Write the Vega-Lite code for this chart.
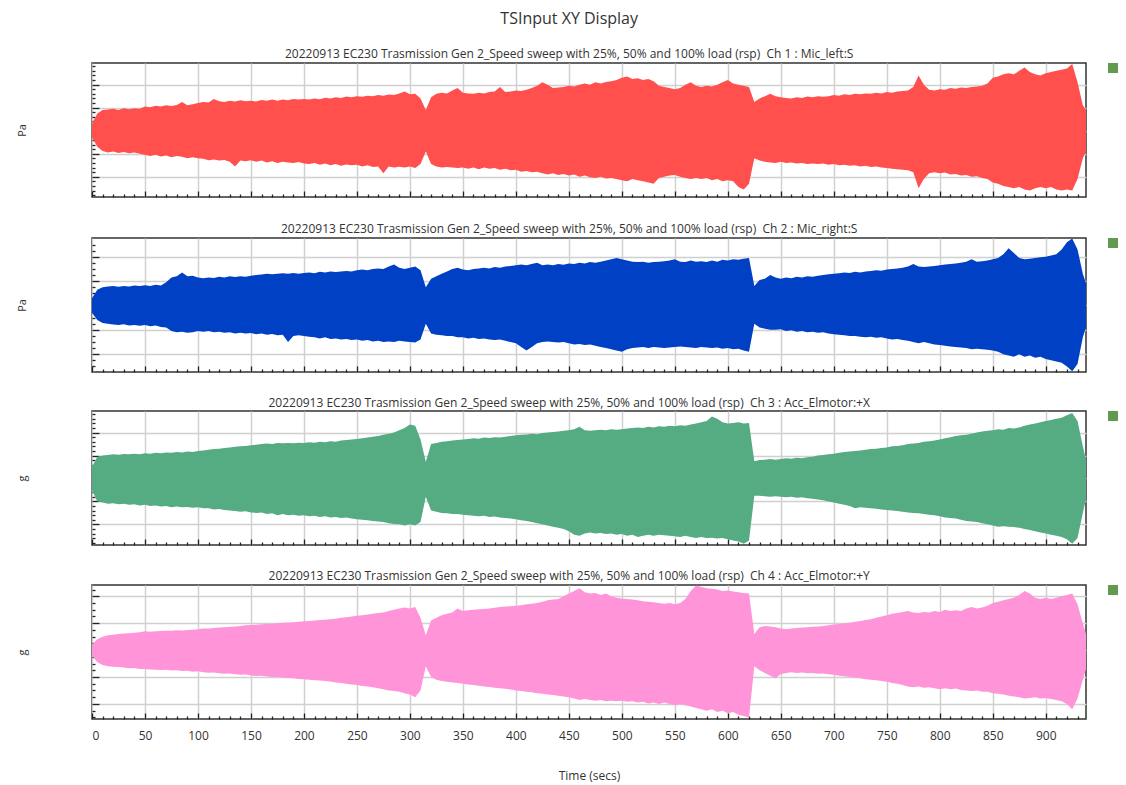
{
"$schema":"https://vega.github.io/schema/vega-lite/v6.json",
"background":"white",
"padding":{"left":15,"right":5,"top":11,"bottom":5},
"title":{"text":"TSInput XY Display","fontSize":16,"anchor":"middle","offset":20,"fontWeight":"normal","color":"#333"},
"spacing":22,
"resolve":{"scale":{"color":"independent"},"legend":{"color":"independent"}},
"datasets":{"wave":[
{"t":0,"h1":0.3,"l1":-0.3,"h2":0.3,"l2":-0.3,"h3":0.5,"l3":-0.5,"h4":0.2,"l4":-0.2},
{"t":5,"h1":0.75,"l1":-0.7,"h2":0.65,"l2":-0.6,"h3":0.95,"l3":-1.0,"h4":0.4,"l4":-0.45},
{"t":10,"h1":0.9,"l1":-0.88,"h2":0.75,"l2":-0.72,"h3":1.0,"l3":-1.05,"h4":0.5,"l4":-0.55},
{"t":15,"h1":0.92,"l1":-0.95,"h2":0.78,"l2":-0.75,"h3":1.02,"l3":-1.1,"h4":0.55,"l4":-0.6},
{"t":20,"h1":0.95,"l1":-0.9,"h2":0.8,"l2":-0.78,"h3":1.05,"l3":-1.08,"h4":0.57,"l4":-0.62},
{"t":25,"h1":0.9,"l1":-0.97,"h2":0.77,"l2":-0.8,"h3":1.03,"l3":-1.12,"h4":0.6,"l4":-0.63},
{"t":30,"h1":0.97,"l1":-0.93,"h2":0.8,"l2":-0.77,"h3":1.07,"l3":-1.1,"h4":0.62,"l4":-0.65},
{"t":35,"h1":0.93,"l1":-0.98,"h2":0.78,"l2":-0.82,"h3":1.05,"l3":-1.15,"h4":0.63,"l4":-0.67},
{"t":40,"h1":0.98,"l1":-0.95,"h2":0.82,"l2":-0.8,"h3":1.08,"l3":-1.12,"h4":0.65,"l4":-0.66},
{"t":45,"h1":0.95,"l1":-1.0,"h2":0.8,"l2":-0.83,"h3":1.06,"l3":-1.18,"h4":0.66,"l4":-0.7},
{"t":50,"h1":1.05,"l1":-1.05,"h2":0.83,"l2":-0.8,"h3":1.1,"l3":-1.15,"h4":0.7,"l4":-0.7},
{"t":55,"h1":1.02,"l1":-1.1,"h2":0.8,"l2":-0.85,"h3":1.08,"l3":-1.2,"h4":0.68,"l4":-0.72},
{"t":60,"h1":1.08,"l1":-1.05,"h2":0.85,"l2":-0.82,"h3":1.12,"l3":-1.18,"h4":0.7,"l4":-0.73},
{"t":65,"h1":1.05,"l1":-1.12,"h2":0.82,"l2":-0.88,"h3":1.1,"l3":-1.22,"h4":0.71,"l4":-0.74},
{"t":70,"h1":1.1,"l1":-1.08,"h2":0.95,"l2":-0.9,"h3":1.13,"l3":-1.2,"h4":0.72,"l4":-0.73},
{"t":75,"h1":1.07,"l1":-1.15,"h2":1.15,"l2":-1.05,"h3":1.12,"l3":-1.25,"h4":0.72,"l4":-0.76},
{"t":80,"h1":1.12,"l1":-1.1,"h2":1.2,"l2":-1.1,"h3":1.15,"l3":-1.22,"h4":0.74,"l4":-0.75},
{"t":85,"h1":1.25,"l1":-1.13,"h2":1.35,"l2":-1.08,"h3":1.13,"l3":-1.26,"h4":0.73,"l4":-0.78},
{"t":90,"h1":1.1,"l1":-1.2,"h2":1.2,"l2":-1.12,"h3":1.17,"l3":-1.24,"h4":0.75,"l4":-0.77},
{"t":95,"h1":1.15,"l1":-1.15,"h2":1.22,"l2":-1.1,"h3":1.15,"l3":-1.28,"h4":0.76,"l4":-0.8},
{"t":100,"h1":1.2,"l1":-1.2,"h2":1.15,"l2":-1.05,"h3":1.2,"l3":-1.26,"h4":0.78,"l4":-0.79},
{"t":105,"h1":1.25,"l1":-1.22,"h2":1.12,"l2":-1.08,"h3":1.22,"l3":-1.3,"h4":0.8,"l4":-0.82},
{"t":110,"h1":1.22,"l1":-1.28,"h2":1.15,"l2":-1.05,"h3":1.25,"l3":-1.3,"h4":0.8,"l4":-0.84},
{"t":115,"h1":1.38,"l1":-1.25,"h2":1.13,"l2":-1.1,"h3":1.28,"l3":-1.35,"h4":0.82,"l4":-0.83},
{"t":120,"h1":1.28,"l1":-1.3,"h2":1.18,"l2":-1.08,"h3":1.3,"l3":-1.33,"h4":0.84,"l4":-0.86},
{"t":125,"h1":1.25,"l1":-1.27,"h2":1.15,"l2":-1.12,"h3":1.33,"l3":-1.38,"h4":0.85,"l4":-0.88},
{"t":130,"h1":1.3,"l1":-1.35,"h2":1.2,"l2":-1.1,"h3":1.35,"l3":-1.4,"h4":0.87,"l4":-0.87},
{"t":135,"h1":1.27,"l1":-1.55,"h2":1.17,"l2":-1.15,"h3":1.38,"l3":-1.42,"h4":0.88,"l4":-0.9},
{"t":140,"h1":1.32,"l1":-1.3,"h2":1.2,"l2":-1.12,"h3":1.4,"l3":-1.45,"h4":0.9,"l4":-0.92},
{"t":145,"h1":1.28,"l1":-1.33,"h2":1.18,"l2":-1.15,"h3":1.42,"l3":-1.43,"h4":0.92,"l4":-0.91},
{"t":150,"h1":1.3,"l1":-1.28,"h2":1.22,"l2":-1.13,"h3":1.45,"l3":-1.48,"h4":0.93,"l4":-0.94},
{"t":155,"h1":1.27,"l1":-1.35,"h2":1.25,"l2":-1.18,"h3":1.47,"l3":-1.5,"h4":0.94,"l4":-0.96},
{"t":160,"h1":1.33,"l1":-1.3,"h2":1.27,"l2":-1.15,"h3":1.5,"l3":-1.48,"h4":0.96,"l4":-0.95},
{"t":165,"h1":1.3,"l1":-1.38,"h2":1.3,"l2":-1.2,"h3":1.52,"l3":-1.55,"h4":0.97,"l4":-0.98},
{"t":170,"h1":1.35,"l1":-1.33,"h2":1.28,"l2":-1.17,"h3":1.5,"l3":-1.52,"h4":0.98,"l4":-1.0},
{"t":175,"h1":1.3,"l1":-1.4,"h2":1.3,"l2":-1.22,"h3":1.55,"l3":-1.6,"h4":1.0,"l4":-1.0},
{"t":180,"h1":1.36,"l1":-1.35,"h2":1.32,"l2":-1.2,"h3":1.53,"l3":-1.55,"h4":1.02,"l4":-1.02},
{"t":185,"h1":1.32,"l1":-1.38,"h2":1.3,"l2":-1.5,"h3":1.55,"l3":-1.6,"h4":1.03,"l4":-1.04},
{"t":190,"h1":1.38,"l1":-1.4,"h2":1.33,"l2":-1.25,"h3":1.53,"l3":-1.58,"h4":1.04,"l4":-1.05},
{"t":195,"h1":1.35,"l1":-1.36,"h2":1.3,"l2":-1.22,"h3":1.56,"l3":-1.62,"h4":1.05,"l4":-1.07},
{"t":200,"h1":1.38,"l1":-1.42,"h2":1.33,"l2":-1.25,"h3":1.55,"l3":-1.6,"h4":1.07,"l4":-1.08},
{"t":205,"h1":1.35,"l1":-1.45,"h2":1.35,"l2":-1.28,"h3":1.58,"l3":-1.65,"h4":1.08,"l4":-1.1},
{"t":210,"h1":1.4,"l1":-1.4,"h2":1.32,"l2":-1.3,"h3":1.56,"l3":-1.62,"h4":1.1,"l4":-1.12},
{"t":215,"h1":1.37,"l1":-1.48,"h2":1.38,"l2":-1.35,"h3":1.6,"l3":-1.68,"h4":1.12,"l4":-1.13},
{"t":220,"h1":1.43,"l1":-1.43,"h2":1.35,"l2":-1.3,"h3":1.58,"l3":-1.65,"h4":1.13,"l4":-1.15},
{"t":225,"h1":1.4,"l1":-1.5,"h2":1.4,"l2":-1.38,"h3":1.62,"l3":-1.7,"h4":1.15,"l4":-1.17},
{"t":230,"h1":1.45,"l1":-1.45,"h2":1.37,"l2":-1.35,"h3":1.6,"l3":-1.68,"h4":1.17,"l4":-1.2},
{"t":235,"h1":1.42,"l1":-1.52,"h2":1.4,"l2":-1.4,"h3":1.65,"l3":-1.72,"h4":1.2,"l4":-1.22},
{"t":240,"h1":1.48,"l1":-1.47,"h2":1.42,"l2":-1.38,"h3":1.68,"l3":-1.7,"h4":1.22,"l4":-1.25},
{"t":245,"h1":1.45,"l1":-1.5,"h2":1.4,"l2":-1.42,"h3":1.7,"l3":-1.75,"h4":1.25,"l4":-1.28},
{"t":250,"h1":1.5,"l1":-1.48,"h2":1.45,"l2":-1.4,"h3":1.72,"l3":-1.78,"h4":1.28,"l4":-1.3},
{"t":255,"h1":1.47,"l1":-1.55,"h2":1.48,"l2":-1.45,"h3":1.75,"l3":-1.8,"h4":1.3,"l4":-1.33},
{"t":260,"h1":1.52,"l1":-1.5,"h2":1.45,"l2":-1.42,"h3":1.78,"l3":-1.82,"h4":1.32,"l4":-1.35},
{"t":265,"h1":1.5,"l1":-1.58,"h2":1.5,"l2":-1.48,"h3":1.82,"l3":-1.85,"h4":1.35,"l4":-1.38},
{"t":270,"h1":1.55,"l1":-1.55,"h2":1.52,"l2":-1.45,"h3":1.85,"l3":-1.88,"h4":1.38,"l4":-1.42},
{"t":275,"h1":1.52,"l1":-1.85,"h2":1.5,"l2":-1.5,"h3":1.9,"l3":-1.9,"h4":1.4,"l4":-1.45},
{"t":280,"h1":1.57,"l1":-1.55,"h2":1.6,"l2":-1.48,"h3":1.95,"l3":-1.95,"h4":1.45,"l4":-1.5},
{"t":285,"h1":1.55,"l1":-1.6,"h2":1.68,"l2":-1.5,"h3":2.0,"l3":-1.98,"h4":1.5,"l4":-1.52},
{"t":290,"h1":1.62,"l1":-1.57,"h2":1.55,"l2":-1.45,"h3":2.1,"l3":-2.0,"h4":1.55,"l4":-1.55},
{"t":295,"h1":1.7,"l1":-1.6,"h2":1.5,"l2":-1.48,"h3":2.2,"l3":-2.05,"h4":1.58,"l4":-1.6},
{"t":300,"h1":1.58,"l1":-1.55,"h2":1.55,"l2":-1.5,"h3":2.35,"l3":-2.0,"h4":1.55,"l4":-1.65},
{"t":305,"h1":1.6,"l1":-1.62,"h2":1.6,"l2":-1.52,"h3":2.3,"l3":-2.05,"h4":1.6,"l4":-1.75},
{"t":310,"h1":1.4,"l1":-1.45,"h2":1.45,"l2":-1.4,"h3":1.7,"l3":-1.9,"h4":1.2,"l4":-1.5},
{"t":315,"h1":0.9,"l1":-0.9,"h2":0.75,"l2":-0.75,"h3":0.73,"l3":-0.8,"h4":0.55,"l4":-0.6},
{"t":320,"h1":1.45,"l1":-1.45,"h2":1.1,"l2":-1.15,"h3":1.5,"l3":-1.4,"h4":1.1,"l4":-1.0},
{"t":325,"h1":1.6,"l1":-1.55,"h2":1.2,"l2":-1.2,"h3":1.55,"l3":-1.45,"h4":1.2,"l4":-1.1},
{"t":330,"h1":1.65,"l1":-1.6,"h2":1.3,"l2":-1.22,"h3":1.6,"l3":-1.5,"h4":1.3,"l4":-1.15},
{"t":335,"h1":1.62,"l1":-1.58,"h2":1.4,"l2":-1.25,"h3":1.62,"l3":-1.52,"h4":1.35,"l4":-1.18},
{"t":340,"h1":1.75,"l1":-1.6,"h2":1.5,"l2":-1.25,"h3":1.65,"l3":-1.55,"h4":1.4,"l4":-1.2},
{"t":345,"h1":1.85,"l1":-1.62,"h2":1.55,"l2":-1.3,"h3":1.68,"l3":-1.55,"h4":1.55,"l4":-1.22},
{"t":350,"h1":1.65,"l1":-1.6,"h2":1.48,"l2":-1.3,"h3":1.7,"l3":-1.58,"h4":1.45,"l4":-1.25},
{"t":355,"h1":1.62,"l1":-1.65,"h2":1.45,"l2":-1.35,"h3":1.72,"l3":-1.6,"h4":1.48,"l4":-1.28},
{"t":360,"h1":1.6,"l1":-1.6,"h2":1.5,"l2":-1.32,"h3":1.75,"l3":-1.62,"h4":1.5,"l4":-1.3},
{"t":365,"h1":1.65,"l1":-1.68,"h2":1.52,"l2":-1.38,"h3":1.73,"l3":-1.65,"h4":1.52,"l4":-1.32},
{"t":370,"h1":1.62,"l1":-1.6,"h2":1.55,"l2":-1.35,"h3":1.78,"l3":-1.63,"h4":1.53,"l4":-1.35},
{"t":375,"h1":1.68,"l1":-1.65,"h2":1.52,"l2":-1.4,"h3":1.76,"l3":-1.68,"h4":1.55,"l4":-1.37},
{"t":380,"h1":1.7,"l1":-1.62,"h2":1.58,"l2":-1.42,"h3":1.8,"l3":-1.66,"h4":1.57,"l4":-1.4},
{"t":385,"h1":1.9,"l1":-1.7,"h2":1.55,"l2":-1.4,"h3":1.78,"l3":-1.7,"h4":1.6,"l4":-1.42},
{"t":390,"h1":1.68,"l1":-1.65,"h2":1.6,"l2":-1.45,"h3":1.82,"l3":-1.72,"h4":1.62,"l4":-1.44},
{"t":395,"h1":1.7,"l1":-1.72,"h2":1.62,"l2":-1.5,"h3":1.85,"l3":-1.75,"h4":1.63,"l4":-1.46},
{"t":400,"h1":1.75,"l1":-1.7,"h2":1.65,"l2":-1.55,"h3":1.88,"l3":-1.78,"h4":1.65,"l4":-1.5},
{"t":405,"h1":1.72,"l1":-1.78,"h2":1.68,"l2":-1.7,"h3":1.9,"l3":-1.82,"h4":1.67,"l4":-1.52},
{"t":410,"h1":1.78,"l1":-1.75,"h2":1.65,"l2":-1.85,"h3":1.92,"l3":-1.85,"h4":1.7,"l4":-1.55},
{"t":415,"h1":1.85,"l1":-1.8,"h2":1.7,"l2":-1.7,"h3":1.95,"l3":-1.9,"h4":1.72,"l4":-1.57},
{"t":420,"h1":1.95,"l1":-1.78,"h2":1.75,"l2":-1.55,"h3":1.93,"l3":-1.95,"h4":1.75,"l4":-1.6},
{"t":425,"h1":2.1,"l1":-1.85,"h2":1.65,"l2":-1.5,"h3":1.98,"l3":-2.0,"h4":1.8,"l4":-1.62},
{"t":430,"h1":2.0,"l1":-1.9,"h2":1.68,"l2":-1.48,"h3":2.0,"l3":-2.05,"h4":1.85,"l4":-1.65},
{"t":435,"h1":1.85,"l1":-1.85,"h2":1.65,"l2":-1.5,"h3":2.02,"l3":-2.1,"h4":1.88,"l4":-1.67},
{"t":440,"h1":1.88,"l1":-1.92,"h2":1.7,"l2":-1.52,"h3":2.05,"l3":-2.15,"h4":1.9,"l4":-1.7},
{"t":445,"h1":1.9,"l1":-1.88,"h2":1.67,"l2":-1.5,"h3":2.08,"l3":-2.2,"h4":2.0,"l4":-1.72},
{"t":450,"h1":1.95,"l1":-1.95,"h2":1.72,"l2":-1.55,"h3":2.1,"l3":-2.3,"h4":2.1,"l4":-1.75},
{"t":455,"h1":1.92,"l1":-1.9,"h2":1.7,"l2":-1.6,"h3":2.15,"l3":-2.45,"h4":2.2,"l4":-1.8},
{"t":460,"h1":2.0,"l1":-2.0,"h2":1.75,"l2":-1.58,"h3":2.25,"l3":-2.5,"h4":2.3,"l4":-1.85},
{"t":465,"h1":2.05,"l1":-1.95,"h2":1.72,"l2":-1.62,"h3":2.1,"l3":-2.4,"h4":2.15,"l4":-1.82},
{"t":470,"h1":2.0,"l1":-2.02,"h2":1.78,"l2":-1.6,"h3":2.08,"l3":-2.35,"h4":2.1,"l4":-1.85},
{"t":475,"h1":2.1,"l1":-2.05,"h2":1.75,"l2":-1.65,"h3":2.1,"l3":-2.4,"h4":2.12,"l4":-1.88},
{"t":480,"h1":2.05,"l1":-2.0,"h2":1.8,"l2":-1.7,"h3":2.12,"l3":-2.38,"h4":2.05,"l4":-1.85},
{"t":485,"h1":2.12,"l1":-2.08,"h2":1.85,"l2":-1.75,"h3":2.1,"l3":-2.42,"h4":2.1,"l4":-1.9},
{"t":490,"h1":2.15,"l1":-2.05,"h2":1.9,"l2":-1.8,"h3":2.15,"l3":-2.4,"h4":2.0,"l4":-1.88},
{"t":495,"h1":2.2,"l1":-2.1,"h2":1.95,"l2":-1.85,"h3":2.12,"l3":-2.45,"h4":1.95,"l4":-1.9},
{"t":500,"h1":2.3,"l1":-2.15,"h2":1.9,"l2":-1.9,"h3":2.15,"l3":-2.42,"h4":1.92,"l4":-1.88},
{"t":505,"h1":2.35,"l1":-2.2,"h2":1.85,"l2":-1.8,"h3":2.18,"l3":-2.5,"h4":1.9,"l4":-1.92},
{"t":510,"h1":2.25,"l1":-2.1,"h2":1.8,"l2":-1.75,"h3":2.2,"l3":-2.45,"h4":1.88,"l4":-1.9},
{"t":515,"h1":2.28,"l1":-2.15,"h2":1.78,"l2":-1.72,"h3":2.22,"l3":-2.55,"h4":1.85,"l4":-1.95},
{"t":520,"h1":2.2,"l1":-2.2,"h2":1.8,"l2":-1.7,"h3":2.2,"l3":-2.5,"h4":1.82,"l4":-1.92},
{"t":525,"h1":2.25,"l1":-2.25,"h2":1.75,"l2":-1.75,"h3":2.25,"l3":-2.45,"h4":1.8,"l4":-1.98},
{"t":530,"h1":2.15,"l1":-2.3,"h2":1.78,"l2":-1.7,"h3":2.22,"l3":-2.5,"h4":1.78,"l4":-1.95},
{"t":535,"h1":1.95,"l1":-2.05,"h2":1.8,"l2":-1.72,"h3":2.28,"l3":-2.45,"h4":1.75,"l4":-2.0},
{"t":540,"h1":1.9,"l1":-2.0,"h2":1.82,"l2":-1.75,"h3":2.25,"l3":-2.48,"h4":1.72,"l4":-1.95},
{"t":545,"h1":1.85,"l1":-1.95,"h2":1.85,"l2":-1.72,"h3":2.3,"l3":-2.5,"h4":1.75,"l4":-2.0},
{"t":550,"h1":1.8,"l1":-1.92,"h2":1.9,"l2":-1.7,"h3":2.28,"l3":-2.52,"h4":1.7,"l4":-2.05},
{"t":555,"h1":1.85,"l1":-2.0,"h2":1.8,"l2":-1.68,"h3":2.32,"l3":-2.55,"h4":1.75,"l4":-2.0},
{"t":560,"h1":2.0,"l1":-2.05,"h2":1.78,"l2":-1.7,"h3":2.3,"l3":-2.5,"h4":1.9,"l4":-2.05},
{"t":565,"h1":2.1,"l1":-2.1,"h2":1.85,"l2":-1.72,"h3":2.35,"l3":-2.55,"h4":2.2,"l4":-2.1},
{"t":570,"h1":1.95,"l1":-2.05,"h2":1.8,"l2":-1.75,"h3":2.4,"l3":-2.6,"h4":2.4,"l4":-2.15},
{"t":575,"h1":1.9,"l1":-2.1,"h2":1.82,"l2":-1.7,"h3":2.45,"l3":-2.55,"h4":2.35,"l4":-2.2},
{"t":580,"h1":1.95,"l1":-2.05,"h2":1.78,"l2":-1.72,"h3":2.5,"l3":-2.6,"h4":2.3,"l4":-2.25},
{"t":585,"h1":1.92,"l1":-2.15,"h2":1.85,"l2":-1.75,"h3":2.7,"l3":-2.58,"h4":2.28,"l4":-2.2},
{"t":590,"h1":2.0,"l1":-2.1,"h2":1.8,"l2":-1.72,"h3":2.6,"l3":-2.62,"h4":2.25,"l4":-2.3},
{"t":595,"h1":2.1,"l1":-2.2,"h2":1.88,"l2":-1.78,"h3":2.45,"l3":-2.6,"h4":2.2,"l4":-2.25},
{"t":600,"h1":2.2,"l1":-2.15,"h2":1.85,"l2":-1.75,"h3":2.4,"l3":-2.65,"h4":2.22,"l4":-2.35},
{"t":605,"h1":2.05,"l1":-2.2,"h2":1.9,"l2":-1.8,"h3":2.42,"l3":-2.7,"h4":2.18,"l4":-2.3},
{"t":610,"h1":2.0,"l1":-2.45,"h2":1.88,"l2":-1.78,"h3":2.45,"l3":-2.75,"h4":2.15,"l4":-2.4},
{"t":615,"h1":1.95,"l1":-2.55,"h2":1.92,"l2":-1.85,"h3":2.4,"l3":-2.85,"h4":2.12,"l4":-2.45},
{"t":620,"h1":1.9,"l1":-2.3,"h2":1.95,"l2":-1.9,"h3":2.42,"l3":-2.7,"h4":2.1,"l4":-2.5},
{"t":625,"h1":1.25,"l1":-1.2,"h2":0.8,"l2":-0.75,"h3":0.75,"l3":-0.75,"h4":0.6,"l4":-0.6},
{"t":630,"h1":1.4,"l1":-1.3,"h2":1.05,"l2":-0.9,"h3":0.8,"l3":-0.75,"h4":0.85,"l4":-0.75},
{"t":635,"h1":1.5,"l1":-1.35,"h2":1.1,"l2":-0.95,"h3":0.82,"l3":-0.78,"h4":0.9,"l4":-0.85},
{"t":640,"h1":1.6,"l1":-1.38,"h2":1.25,"l2":-1.0,"h3":0.85,"l3":-0.8,"h4":0.88,"l4":-0.95},
{"t":645,"h1":1.5,"l1":-1.4,"h2":1.15,"l2":-1.0,"h3":0.82,"l3":-0.78,"h4":0.85,"l4":-1.05},
{"t":650,"h1":1.45,"l1":-1.35,"h2":1.1,"l2":-0.98,"h3":0.85,"l3":-0.8,"h4":0.8,"l4":-0.9},
{"t":655,"h1":1.42,"l1":-1.4,"h2":1.15,"l2":-1.05,"h3":0.88,"l3":-0.82,"h4":0.78,"l4":-0.85},
{"t":660,"h1":1.4,"l1":-1.38,"h2":1.12,"l2":-1.02,"h3":0.86,"l3":-0.8,"h4":0.8,"l4":-0.82},
{"t":665,"h1":1.45,"l1":-1.42,"h2":1.18,"l2":-1.08,"h3":0.9,"l3":-0.84,"h4":0.82,"l4":-0.85},
{"t":670,"h1":1.42,"l1":-1.4,"h2":1.15,"l2":-1.05,"h3":0.88,"l3":-0.82,"h4":0.84,"l4":-0.83},
{"t":675,"h1":1.48,"l1":-1.45,"h2":1.2,"l2":-1.1,"h3":0.92,"l3":-0.86,"h4":0.85,"l4":-0.86},
{"t":680,"h1":1.45,"l1":-1.42,"h2":1.18,"l2":-1.08,"h3":0.95,"l3":-0.88,"h4":0.87,"l4":-0.85},
{"t":685,"h1":1.5,"l1":-1.45,"h2":1.22,"l2":-1.12,"h3":1.0,"l3":-0.92,"h4":0.88,"l4":-0.88},
{"t":690,"h1":1.47,"l1":-1.42,"h2":1.25,"l2":-1.1,"h3":1.02,"l3":-0.95,"h4":0.9,"l4":-0.87},
{"t":695,"h1":1.5,"l1":-1.48,"h2":1.28,"l2":-1.15,"h3":1.05,"l3":-1.0,"h4":0.92,"l4":-0.9},
{"t":700,"h1":1.55,"l1":-1.45,"h2":1.3,"l2":-1.18,"h3":1.08,"l3":-1.05,"h4":0.95,"l4":-0.92},
{"t":705,"h1":1.52,"l1":-1.5,"h2":1.32,"l2":-1.2,"h3":1.12,"l3":-1.1,"h4":0.97,"l4":-0.95},
{"t":710,"h1":1.58,"l1":-1.48,"h2":1.35,"l2":-1.22,"h3":1.15,"l3":-1.15,"h4":1.0,"l4":-0.97},
{"t":715,"h1":1.55,"l1":-1.52,"h2":1.33,"l2":-1.25,"h3":1.18,"l3":-1.2,"h4":1.02,"l4":-1.0},
{"t":720,"h1":1.6,"l1":-1.5,"h2":1.38,"l2":-1.25,"h3":1.2,"l3":-1.3,"h4":1.05,"l4":-1.02},
{"t":725,"h1":1.58,"l1":-1.55,"h2":1.35,"l2":-1.28,"h3":1.22,"l3":-1.25,"h4":1.08,"l4":-1.05},
{"t":730,"h1":1.62,"l1":-1.52,"h2":1.4,"l2":-1.3,"h3":1.25,"l3":-1.28,"h4":1.12,"l4":-1.08},
{"t":735,"h1":1.6,"l1":-1.58,"h2":1.42,"l2":-1.28,"h3":1.28,"l3":-1.3,"h4":1.15,"l4":-1.1},
{"t":740,"h1":1.65,"l1":-1.55,"h2":1.45,"l2":-1.32,"h3":1.3,"l3":-1.32,"h4":1.2,"l4":-1.12},
{"t":745,"h1":1.62,"l1":-1.6,"h2":1.43,"l2":-1.3,"h3":1.33,"l3":-1.35,"h4":1.25,"l4":-1.15},
{"t":750,"h1":1.68,"l1":-1.62,"h2":1.48,"l2":-1.35,"h3":1.35,"l3":-1.38,"h4":1.3,"l4":-1.18},
{"t":755,"h1":1.65,"l1":-1.65,"h2":1.5,"l2":-1.4,"h3":1.4,"l3":-1.4,"h4":1.35,"l4":-1.22},
{"t":760,"h1":1.7,"l1":-1.68,"h2":1.52,"l2":-1.38,"h3":1.42,"l3":-1.42,"h4":1.38,"l4":-1.25},
{"t":765,"h1":1.72,"l1":-1.7,"h2":1.55,"l2":-1.42,"h3":1.45,"l3":-1.45,"h4":1.42,"l4":-1.3},
{"t":770,"h1":1.75,"l1":-1.72,"h2":1.6,"l2":-1.45,"h3":1.5,"l3":-1.48,"h4":1.45,"l4":-1.35},
{"t":775,"h1":1.9,"l1":-1.8,"h2":1.7,"l2":-1.5,"h3":1.52,"l3":-1.5,"h4":1.4,"l4":-1.38},
{"t":780,"h1":2.4,"l1":-2.5,"h2":1.6,"l2":-1.55,"h3":1.55,"l3":-1.52,"h4":1.38,"l4":-1.35},
{"t":785,"h1":2.0,"l1":-2.1,"h2":1.58,"l2":-1.5,"h3":1.6,"l3":-1.55,"h4":1.42,"l4":-1.4},
{"t":790,"h1":1.78,"l1":-1.85,"h2":1.6,"l2":-1.55,"h3":1.62,"l3":-1.58,"h4":1.4,"l4":-1.38},
{"t":795,"h1":1.75,"l1":-1.8,"h2":1.62,"l2":-1.6,"h3":1.65,"l3":-1.6,"h4":1.45,"l4":-1.42},
{"t":800,"h1":1.8,"l1":-1.85,"h2":1.65,"l2":-1.62,"h3":1.7,"l3":-1.65,"h4":1.42,"l4":-1.45},
{"t":805,"h1":1.78,"l1":-1.82,"h2":1.68,"l2":-1.65,"h3":1.75,"l3":-1.7,"h4":1.5,"l4":-1.42},
{"t":810,"h1":1.85,"l1":-1.9,"h2":1.7,"l2":-1.68,"h3":1.8,"l3":-1.72,"h4":1.45,"l4":-1.45},
{"t":815,"h1":1.82,"l1":-1.88,"h2":1.72,"l2":-1.7,"h3":1.85,"l3":-1.75,"h4":1.48,"l4":-1.43},
{"t":820,"h1":1.88,"l1":-1.95,"h2":1.75,"l2":-1.72,"h3":1.88,"l3":-1.8,"h4":1.45,"l4":-1.48},
{"t":825,"h1":1.85,"l1":-1.92,"h2":1.8,"l2":-1.75,"h3":1.9,"l3":-1.85,"h4":1.55,"l4":-1.5},
{"t":830,"h1":1.9,"l1":-2.0,"h2":1.9,"l2":-1.8,"h3":1.95,"l3":-1.88,"h4":1.6,"l4":-1.52},
{"t":835,"h1":1.92,"l1":-1.98,"h2":1.8,"l2":-1.78,"h3":2.0,"l3":-1.9,"h4":1.55,"l4":-1.5},
{"t":840,"h1":1.95,"l1":-2.05,"h2":1.82,"l2":-1.8,"h3":2.05,"l3":-1.95,"h4":1.58,"l4":-1.55},
{"t":845,"h1":2.05,"l1":-2.1,"h2":1.85,"l2":-1.82,"h3":2.08,"l3":-2.0,"h4":1.65,"l4":-1.55},
{"t":850,"h1":2.3,"l1":-2.25,"h2":1.9,"l2":-1.85,"h3":2.1,"l3":-2.05,"h4":1.75,"l4":-1.6},
{"t":855,"h1":2.35,"l1":-2.3,"h2":1.95,"l2":-1.9,"h3":2.15,"l3":-2.1,"h4":1.8,"l4":-1.62},
{"t":860,"h1":2.45,"l1":-2.4,"h2":2.1,"l2":-2.0,"h3":2.12,"l3":-2.08,"h4":1.85,"l4":-1.65},
{"t":865,"h1":2.5,"l1":-2.45,"h2":2.35,"l2":-2.05,"h3":2.2,"l3":-2.1,"h4":1.9,"l4":-1.7},
{"t":870,"h1":2.45,"l1":-2.5,"h2":2.15,"l2":-2.1,"h3":2.18,"l3":-2.12,"h4":1.95,"l4":-1.72},
{"t":875,"h1":2.6,"l1":-2.45,"h2":1.95,"l2":-2.0,"h3":2.22,"l3":-2.15,"h4":2.05,"l4":-1.75},
{"t":880,"h1":2.75,"l1":-2.55,"h2":1.9,"l2":-2.1,"h3":2.3,"l3":-2.2,"h4":2.2,"l4":-1.8},
{"t":885,"h1":2.55,"l1":-2.6,"h2":1.92,"l2":-2.05,"h3":2.35,"l3":-2.25,"h4":2.1,"l4":-1.78},
{"t":890,"h1":2.45,"l1":-2.5,"h2":1.95,"l2":-2.15,"h3":2.4,"l3":-2.3,"h4":1.95,"l4":-1.75},
{"t":895,"h1":2.4,"l1":-2.45,"h2":1.98,"l2":-2.1,"h3":2.45,"l3":-2.35,"h4":1.9,"l4":-1.8},
{"t":900,"h1":2.5,"l1":-2.5,"h2":2.0,"l2":-2.2,"h3":2.5,"l3":-2.4,"h4":1.95,"l4":-1.78},
{"t":905,"h1":2.55,"l1":-2.45,"h2":2.05,"l2":-2.25,"h3":2.55,"l3":-2.45,"h4":1.9,"l4":-1.82},
{"t":910,"h1":2.6,"l1":-2.55,"h2":2.1,"l2":-2.3,"h3":2.6,"l3":-2.5,"h4":1.95,"l4":-1.85},
{"t":915,"h1":2.65,"l1":-2.6,"h2":2.3,"l2":-2.35,"h3":2.65,"l3":-2.55,"h4":2.0,"l4":-1.9},
{"t":920,"h1":2.7,"l1":-2.55,"h2":2.6,"l2":-2.5,"h3":2.75,"l3":-2.65,"h4":2.05,"l4":-2.0},
{"t":925,"h1":2.9,"l1":-2.6,"h2":2.75,"l2":-2.7,"h3":2.85,"l3":-2.85,"h4":2.1,"l4":-2.2},
{"t":930,"h1":2.1,"l1":-2.1,"h2":2.3,"l2":-2.4,"h3":2.5,"l3":-2.6,"h4":1.7,"l4":-1.8},
{"t":935,"h1":1.1,"l1":-1.2,"h2":1.3,"l2":-1.3,"h3":1.4,"l3":-1.5,"h4":1.0,"l4":-1.1},
{"t":938,"h1":0.9,"l1":-0.9,"h2":0.9,"l2":-0.9,"h3":0.8,"l3":-0.9,"h4":0.6,"l4":-0.7}
]},
"vconcat":[
{"width":994,"height":134,
 "title":{"text":"20220913 EC230 Trasmission Gen 2_Speed sweep with 25%, 50% and 100% load (rsp) \u00a0Ch 1 : Mic_left:S","frame":"bounds","anchor":"middle","fontSize":12,"offset":0},
 "data":{"name":"wave"},
 "layer":[
  {"mark":{"type":"area","color":"#ff504d","opacity":1},
   "encoding":{
    "x":{"field":"t","type":"quantitative","scale":{"domain":[0,938],"nice":false,"zero":false},"axis":{"orient":"bottom","values":[0,50,100,150,200,250,300,350,400,450,500,550,600,650,700,750,800,850,900],"grid":true,"tickSize":-6,"labels":false,"title":null}},
    "y":{"field":"h1","type":"quantitative","scale":{"domain":[-2.88,2.94],"nice":false,"zero":false},"axis":{"orient":"left","values":[-2,-1,0,1,2],"grid":true,"tickSize":-7,"labels":false,"title":"Pa","titlePadding":64}},
    "y2":{"field":"l1"}}},
  {"mark":{"type":"point","opacity":0},
   "encoding":{
    "x":{"field":"t","type":"quantitative","scale":{"domain":[0,938],"nice":false,"zero":false},"axis":{"orient":"bottom","values":[10,20,30,40,60,70,80,90,110,120,130,140,160,170,180,190,210,220,230,240,260,270,280,290,310,320,330,340,360,370,380,390,410,420,430,440,460,470,480,490,510,520,530,540,560,570,580,590,610,620,630,640,660,670,680,690,710,720,730,740,760,770,780,790,810,820,830,840,860,870,880,890,910,920,930],"grid":false,"tickSize":-3,"labels":false,"title":null}},
    "y":{"field":"h1","type":"quantitative","scale":{"domain":[-2.88,2.94],"nice":false,"zero":false},"axis":{"orient":"left","values":[-2.8,-2.6,-2.4,-2.2,-1.8,-1.6,-1.4,-1.2,-0.8,-0.6,-0.4,-0.2,0.2,0.4,0.6,0.8,1.2,1.4,1.6,1.8,2.2,2.4,2.6,2.8],"grid":false,"tickSize":-3,"labels":false,"title":null}}}},
  {"data":{"values":[{"k":"S"}]},"mark":{"type":"square","opacity":0},
   "encoding":{"color":{"field":"k","type":"nominal","scale":{"range":["#629a50"]},"legend":{"title":null,"orient":"right","offset":22,"padding":0,"symbolType":"square","symbolSize":100,"symbolOpacity":1,"symbolStrokeWidth":0,"labelExpr":"''","labelFontSize":1,"labelLimit":1}}}}
 ],
 "resolve":{"axis":{"x":"independent","y":"independent"}}
},
{"width":994,"height":134,
 "title":{"text":"20220913 EC230 Trasmission Gen 2_Speed sweep with 25%, 50% and 100% load (rsp) \u00a0Ch 2 : Mic_right:S","frame":"bounds","anchor":"middle","fontSize":12,"offset":0},
 "data":{"name":"wave"},
 "layer":[
  {"mark":{"type":"area","color":"#0040c4","opacity":1},
   "encoding":{
    "x":{"field":"t","type":"quantitative","scale":{"domain":[0,938],"nice":false,"zero":false},"axis":{"orient":"bottom","values":[0,50,100,150,200,250,300,350,400,450,500,550,600,650,700,750,800,850,900],"grid":true,"tickSize":-6,"labels":false,"title":null}},
    "y":{"field":"h2","type":"quantitative","scale":{"domain":[-2.73,2.77],"nice":false,"zero":false},"axis":{"orient":"left","values":[-2,-1,0,1,2],"grid":true,"tickSize":-7,"labels":false,"title":"Pa","titlePadding":64}},
    "y2":{"field":"l2"}}},
  {"mark":{"type":"point","opacity":0},
   "encoding":{
    "x":{"field":"t","type":"quantitative","scale":{"domain":[0,938],"nice":false,"zero":false},"axis":{"orient":"bottom","values":[10,20,30,40,60,70,80,90,110,120,130,140,160,170,180,190,210,220,230,240,260,270,280,290,310,320,330,340,360,370,380,390,410,420,430,440,460,470,480,490,510,520,530,540,560,570,580,590,610,620,630,640,660,670,680,690,710,720,730,740,760,770,780,790,810,820,830,840,860,870,880,890,910,920,930],"grid":false,"tickSize":-3,"labels":false,"title":null}},
    "y":{"field":"h2","type":"quantitative","scale":{"domain":[-2.73,2.77],"nice":false,"zero":false},"axis":{"orient":"left","values":[-2.5,-2.25,-1.75,-1.5,-1.25,-0.75,-0.5,-0.25,0.25,0.5,0.75,1.25,1.5,1.75,2.25,2.5],"grid":false,"tickSize":-3,"labels":false,"title":null}}}},
  {"data":{"values":[{"k":"S"}]},"mark":{"type":"square","opacity":0},
   "encoding":{"color":{"field":"k","type":"nominal","scale":{"range":["#629a50"]},"legend":{"title":null,"orient":"right","offset":22,"padding":0,"symbolType":"square","symbolSize":100,"symbolOpacity":1,"symbolStrokeWidth":0,"labelExpr":"''","labelFontSize":1,"labelLimit":1}}}}
 ],
 "resolve":{"axis":{"x":"independent","y":"independent"}}
},
{"width":994,"height":134,
 "title":{"text":"20220913 EC230 Trasmission Gen 2_Speed sweep with 25%, 50% and 100% load (rsp) \u00a0Ch 3 : Acc_Elmotor:+X","frame":"bounds","anchor":"middle","fontSize":12,"offset":0},
 "data":{"name":"wave"},
 "layer":[
  {"mark":{"type":"area","color":"#55ab82","opacity":1},
   "encoding":{
    "x":{"field":"t","type":"quantitative","scale":{"domain":[0,938],"nice":false,"zero":false},"axis":{"orient":"bottom","values":[0,50,100,150,200,250,300,350,400,450,500,550,600,650,700,750,800,850,900],"grid":true,"tickSize":-6,"labels":false,"title":null}},
    "y":{"field":"h3","type":"quantitative","scale":{"domain":[-2.9,2.94],"nice":false,"zero":false},"axis":{"orient":"left","values":[-2,-1,0,1,2],"grid":true,"tickSize":-7,"labels":false,"title":"g","titlePadding":64}},
    "y2":{"field":"l3"}}},
  {"mark":{"type":"point","opacity":0},
   "encoding":{
    "x":{"field":"t","type":"quantitative","scale":{"domain":[0,938],"nice":false,"zero":false},"axis":{"orient":"bottom","values":[10,20,30,40,60,70,80,90,110,120,130,140,160,170,180,190,210,220,230,240,260,270,280,290,310,320,330,340,360,370,380,390,410,420,430,440,460,470,480,490,510,520,530,540,560,570,580,590,610,620,630,640,660,670,680,690,710,720,730,740,760,770,780,790,810,820,830,840,860,870,880,890,910,920,930],"grid":false,"tickSize":-3,"labels":false,"title":null}},
    "y":{"field":"h3","type":"quantitative","scale":{"domain":[-2.9,2.94],"nice":false,"zero":false},"axis":{"orient":"left","values":[-2.8,-2.6,-2.4,-2.2,-1.8,-1.6,-1.4,-1.2,-0.8,-0.6,-0.4,-0.2,0.2,0.4,0.6,0.8,1.2,1.4,1.6,1.8,2.2,2.4,2.6,2.8],"grid":false,"tickSize":-3,"labels":false,"title":null}}}},
  {"data":{"values":[{"k":"S"}]},"mark":{"type":"square","opacity":0},
   "encoding":{"color":{"field":"k","type":"nominal","scale":{"range":["#629a50"]},"legend":{"title":null,"orient":"right","offset":22,"padding":0,"symbolType":"square","symbolSize":100,"symbolOpacity":1,"symbolStrokeWidth":0,"labelExpr":"''","labelFontSize":1,"labelLimit":1}}}}
 ],
 "resolve":{"axis":{"x":"independent","y":"independent"}}
},
{"width":994,"height":134,
 "title":{"text":"20220913 EC230 Trasmission Gen 2_Speed sweep with 25%, 50% and 100% load (rsp) \u00a0Ch 4 : Acc_Elmotor:+Y","frame":"bounds","anchor":"middle","fontSize":12,"offset":0},
 "data":{"name":"wave"},
 "layer":[
  {"mark":{"type":"area","color":"#ff94d8","opacity":1},
   "encoding":{
    "x":{"field":"t","type":"quantitative","scale":{"domain":[0,938],"nice":false,"zero":false},"axis":{"orient":"bottom","values":[0,50,100,150,200,250,300,350,400,450,500,550,600,650,700,750,800,850,900],"grid":true,"tickSize":-6,"labels":true,"labelFontSize":12,"labelPadding":17,"title":"Time (secs)","titleFontSize":12,"titlePadding":29}},
    "y":{"field":"h4","type":"quantitative","scale":{"domain":[-2.56,2.42],"nice":false,"zero":false},"axis":{"orient":"left","values":[-2,-1,0,1,2],"grid":true,"tickSize":-7,"labels":false,"title":"g","titlePadding":64}},
    "y2":{"field":"l4"}}},
  {"mark":{"type":"point","opacity":0},
   "encoding":{
    "x":{"field":"t","type":"quantitative","scale":{"domain":[0,938],"nice":false,"zero":false},"axis":{"orient":"bottom","values":[10,20,30,40,60,70,80,90,110,120,130,140,160,170,180,190,210,220,230,240,260,270,280,290,310,320,330,340,360,370,380,390,410,420,430,440,460,470,480,490,510,520,530,540,560,570,580,590,610,620,630,640,660,670,680,690,710,720,730,740,760,770,780,790,810,820,830,840,860,870,880,890,910,920,930],"grid":false,"tickSize":-3,"labels":false,"title":null}},
    "y":{"field":"h4","type":"quantitative","scale":{"domain":[-2.56,2.42],"nice":false,"zero":false},"axis":{"orient":"left","values":[-2.5,-2.25,-1.75,-1.5,-1.25,-0.75,-0.5,-0.25,0.25,0.5,0.75,1.25,1.5,1.75,2.25],"grid":false,"tickSize":-3,"labels":false,"title":null}}}},
  {"data":{"values":[{"k":"S"}]},"mark":{"type":"square","opacity":0},
   "encoding":{"color":{"field":"k","type":"nominal","scale":{"range":["#629a50"]},"legend":{"title":null,"orient":"right","offset":22,"padding":0,"symbolType":"square","symbolSize":100,"symbolOpacity":1,"symbolStrokeWidth":0,"labelExpr":"''","labelFontSize":1,"labelLimit":1}}}}
 ],
 "resolve":{"axis":{"x":"independent","y":"independent"}}
}
],
"config":{
 "font":"Open Sans",
 "view":{"stroke":"#333333","strokeWidth":1.5},
 "axis":{"domain":false,"labelFont":"Open Sans","titleFont":"Open Sans","titleFontWeight":"normal","titleFontSize":11,"titleColor":"#333333","labelColor":"#333333","tickColor":"#222222","tickWidth":1.3,"gridColor":"#d0d0d0","gridWidth":1.5},
 "title":{"font":"Open Sans","fontWeight":"normal","color":"#333333"},
 "legend":{"symbolType":"square"}
}
}
